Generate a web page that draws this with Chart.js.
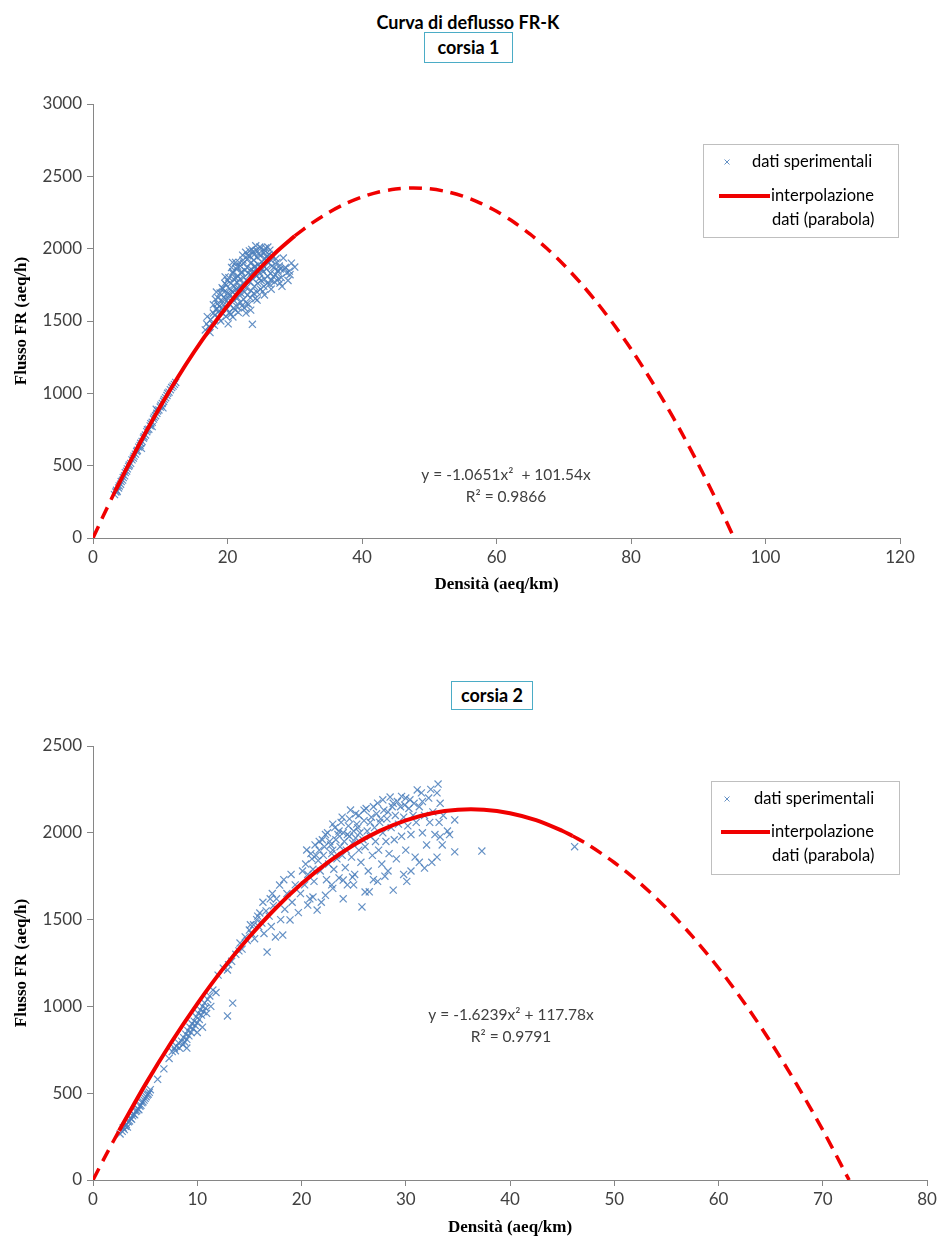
<!DOCTYPE html>
<html lang="it">
<head>
<meta charset="utf-8">
<title>Curva di deflusso FR-K</title>
<script src="https://cdn.jsdelivr.net/npm/chart.js@4.4.1/dist/chart.umd.min.js"></script>
<style>
    body { margin: 0; width: 941px; height: 1241px; position: relative; overflow: hidden; background: #fff; font-family: Lato, sans-serif; }
    .titolo { position: absolute; left: 0; top: 11px; width: 936px; text-align: center; font-weight: bold; font-size: 18px; line-height: 22px; color: #000; }
    .corsia { position: absolute; box-sizing: border-box; border: 1px solid #4bacc6; text-align: center; font-weight: bold; font-size: 18px; color: #000; }
    .grafico { position: absolute; left: 0; }
</style>
</head>
<body>
<div class="titolo">Curva di deflusso FR-K</div>
<div class="corsia" style="left:424px; top:32px; width:89px; height:31px; line-height:29px;">corsia 1</div>
<div class="corsia" style="left:451px; top:681px; width:82px; height:29px; line-height:27px;">corsia 2</div>
<canvas id="grafico1" class="grafico" style="top:0" width="941" height="620"></canvas>
<canvas id="grafico2" class="grafico" style="top:620px" width="941" height="621"></canvas>
<script>
// corsia 1: dati sperimentali (densità aeq/km, flusso aeq/h)
const densita1 = [
    3.2, 3.4, 3.5, 3.6, 3.8, 3.9, 4.1, 4.2, 4.4, 4.5,
    4.7, 4.8, 5.0, 5.1, 5.3, 5.4, 5.6, 5.8, 6.0, 6.1,
    6.3, 6.5, 6.6, 6.8, 7.0, 7.1, 7.3, 7.5, 7.6, 7.8,
    8.0, 8.1, 8.3, 8.5, 8.6, 8.8, 9.0, 9.1, 9.3, 9.5,
    9.6, 9.8, 10.0, 10.1, 10.3, 10.5, 10.6, 10.8, 11.0, 11.1,
    11.3, 11.5, 11.7, 11.9, 12.1, 12.3, 7.2, 8.8, 9.4, 10.4,
    16.7, 17.2, 17.5, 17.8, 18.9, 18.5, 19.2, 20.0, 20.8, 21.5,
    22.3, 23.0, 23.8, 24.8, 26.0, 25.5, 19.0, 20.1, 20.8, 21.6,
    22.5, 23.7, 24.4, 25.5, 26.5, 27.8, 28.3, 28.8, 30.0, 29.0,
    27.5, 28.0, 29.5, 18.1, 18.3, 17.9, 18.2, 18.7, 18.6, 18.8,
    18.6, 19.3, 19.4, 19.2, 19.5, 19.3, 19.8, 19.9, 19.7, 20.0,
    19.8, 20.3, 20.2, 20.4, 20.3, 20.5, 20.2, 20.9, 21.0, 20.8,
    21.0, 20.9, 20.8, 21.4, 21.5, 21.3, 21.4, 21.6, 21.3, 21.9,
    22.0, 21.8, 21.9, 22.1, 21.9, 22.4, 22.5, 22.3, 22.4, 22.6,
    22.4, 22.9, 23.0, 22.8, 22.9, 23.1, 22.9, 23.0, 23.4, 23.5,
    23.3, 23.4, 23.5, 23.4, 23.3, 23.9, 24.0, 23.8, 23.9, 24.1,
    23.9, 24.0, 24.4, 24.5, 24.3, 24.4, 24.6, 24.4, 24.3, 24.9,
    25.0, 24.8, 24.9, 25.1, 24.9, 25.4, 25.5, 25.3, 25.4, 25.6,
    25.4, 25.9, 26.0, 25.8, 26.1, 25.9, 26.5, 26.4, 26.6, 26.5,
    27.0, 27.1, 26.9, 27.6, 27.5, 27.7, 26.2, 24.2, 23.6, 22.7,
    21.2, 20.6, 19.6, 17.0, 16.9, 25.0, 26.3, 27.2, 28.5, 29.3,
    17.4, 17.9, 18.35, 18.05, 19.15, 19.65, 20.15, 20.65, 20.45, 21.15,
    21.75, 21.25, 22.15, 22.75, 22.25, 23.15, 23.65, 23.25, 24.15, 24.65,
    24.75, 25.25, 25.75, 25.15, 26.25, 26.75, 26.85, 27.35, 27.85, 28.6,
    29.2, 28.1, 23.45, 22.05, 20.75, 24.05, 25.65, 19.45, 18.45, 21.65
];
const flusso1 = [
    300, 318, 330, 322, 346, 360, 372, 390, 400, 418,
    430, 452, 462, 478, 495, 505, 516, 540, 552, 566,
    580, 598, 606, 628, 640, 655, 668, 690, 700, 712,
    735, 748, 752, 775, 790, 800, 822, 835, 845, 862,
    878, 885, 905, 918, 930, 945, 958, 970, 985, 1000,
    1008, 1025, 1040, 1050, 1062, 1075, 620, 770, 890, 900,
    1438, 1460, 1510, 1480, 1693, 1620, 1730, 1780, 1840, 1880,
    1921, 1950, 1980, 2011, 2011, 1990, 1500, 1480, 1528, 1560,
    1590, 1477, 1645, 1680, 1720, 1762, 1935, 1831, 1873, 1780,
    1850, 1800, 1900, 1540, 1582, 1612, 1650, 1520, 1561, 1602,
    1660, 1550, 1612, 1640, 1700, 1722, 1530, 1583, 1650, 1690,
    1750, 1560, 1620, 1680, 1722, 1760, 1800, 1590, 1640, 1700,
    1740, 1790, 1830, 1600, 1660, 1720, 1770, 1810, 1860, 1630,
    1690, 1740, 1790, 1840, 1880, 1650, 1700, 1760, 1800, 1850,
    1900, 1620, 1680, 1730, 1780, 1830, 1870, 1930, 1660, 1710,
    1770, 1820, 1860, 1900, 1950, 1690, 1740, 1790, 1840, 1880,
    1920, 1960, 1700, 1760, 1810, 1850, 1890, 1940, 1990, 1720,
    1780, 1830, 1870, 1910, 1950, 1740, 1790, 1840, 1880, 1930,
    1970, 1760, 1810, 1860, 1900, 1950, 1780, 1830, 1880, 1920,
    1770, 1820, 1870, 1790, 1840, 1880, 1960, 2020, 1995, 1975,
    1905, 1870, 1760, 1530, 1480, 2005, 1990, 1930, 1860, 1820,
    1420, 1555, 1700, 1470, 1585, 1805, 1655, 1705, 1545, 1575,
    1905, 1795, 1605, 1555, 1955, 1615, 1835, 1985, 1655, 1965,
    1795, 1705, 1945, 1855, 1755, 1945, 1805, 1905, 1860, 1870,
    1845, 1740, 1575, 1835, 1905, 1875, 2005, 1665, 1585, 1725
];

// corsia 1: parabola di interpolazione (tratto pieno + prolungamenti tratteggiati)
const parabola1X = [3.3, 5, 7.5, 10, 12.5, 15, 17.5, 20, 22.5, 25, 27.5, 30];
const parabola1Y = [324, 481, 702, 909, 1103, 1284, 1451, 1605, 1746, 1873, 1987, 2088];
const prolung1SxX = [0, 1.5, 3.3];
const prolung1SxY = [0, 150, 324];
const prolung1DxX = [30, 32.5, 35, 37.5, 40, 42.5, 45, 47.5, 50, 52.5, 55, 57.5, 60, 62.5, 65, 67.5, 70, 72.5, 75, 77.5, 80, 82.5, 85, 87.5, 90, 92.5, 95.33];
const prolung1DxY = [2088, 2175, 2249, 2310, 2357, 2392, 2412, 2420, 2414, 2395, 2363, 2317, 2258, 2186, 2100, 2001, 1889, 1763, 1624, 1472, 1307, 1127, 936, 730, 511, 279, 0];

const tickX1 = [0, 20, 40, 60, 80, 100, 120];
const tickY1 = [0, 500, 1000, 1500, 2000, 2500, 3000];

// corsia 2
const densita2 = [
    2.6, 2.8, 2.9, 3.0, 3.1, 3.2, 3.3, 3.4, 3.5, 3.6,
    3.7, 3.8, 3.9, 4.0, 4.1, 4.2, 4.3, 4.4, 4.5, 4.6,
    4.7, 4.8, 4.9, 5.0, 5.1, 5.2, 5.3, 5.4, 5.5, 6.2,
    6.8, 7.3, 7.6, 7.8, 7.9, 8.0, 8.2, 8.3, 8.5, 8.6,
    8.7, 8.8, 8.9, 9.0, 9.1, 9.2, 9.3, 9.4, 9.5, 9.6,
    9.7, 9.8, 9.9, 10.0, 10.1, 10.2, 10.3, 10.4, 10.5, 10.6,
    10.7, 10.8, 11.0, 11.2, 11.5, 9.0, 10.0, 10.5, 12.9, 13.4,
    12.0, 12.5, 12.9, 13.3, 13.7, 14.1, 14.3, 14.6, 14.8, 15.0,
    15.2, 15.4, 15.5, 15.7, 15.9, 16.0, 16.2, 16.4, 16.6, 16.7,
    16.9, 17.1, 17.3, 17.5, 17.6, 17.9, 18.0, 18.2, 18.4, 18.6,
    18.9, 19.1, 19.4, 19.7, 19.9, 20.5, 21.0, 21.3, 22.0, 22.5,
    23.2, 23.8, 24.7, 25.5, 26.2, 27.3, 28.5, 29.2, 30.0, 31.1,
    31.5, 32.2, 33.1, 33.0, 33.3, 34.7, 34.7, 33.3, 34.0, 33.6,
    34.2, 20.3, 20.8, 21.5, 22.3, 23.0, 24.0, 25.0, 25.8, 26.5,
    27.3, 28.0, 28.8, 29.8, 30.5, 31.8, 32.5, 33.0, 20.1, 20.4,
    20.6, 20.9, 21.1, 21.2, 21.6, 21.7, 21.8, 22.1, 22.2, 22.4,
    22.6, 22.7, 22.9, 23.0, 23.1, 23.3, 23.4, 23.5, 23.6, 23.7,
    23.9, 24.0, 24.1, 24.2, 24.3, 24.5, 24.6, 24.8, 24.9, 25.0,
    25.1, 25.2, 25.3, 25.5, 25.6, 25.7, 25.9, 26.0, 26.1, 26.3,
    26.4, 26.6, 26.7, 26.8, 27.0, 27.1, 27.2, 27.4, 27.5, 27.7,
    27.8, 27.9, 28.1, 28.2, 28.4, 28.6, 28.7, 28.9, 29.0, 29.1,
    29.3, 29.5, 29.6, 29.8, 30.0, 30.2, 30.3, 30.5, 30.7, 30.9,
    31.0, 31.3, 31.6, 31.8, 32.0, 32.3, 32.6, 32.8, 33.2, 33.5,
    37.3, 46.2, 26.1, 24.9, 24.0, 20.6, 21.1, 16.3, 17.2, 15.8,
    21.4, 22.8, 23.6, 24.4, 25.4, 26.6, 27.6, 28.3, 29.9, 30.8,
    21.7, 22.3, 23.0, 23.9, 24.6, 25.2, 26.0, 26.9, 27.8, 28.8,
    29.6, 30.4, 31.6, 32.4, 22.9, 24.4, 26.9, 28.3, 30.1, 31.3,
    21.9, 19.0, 18.3, 17.0, 15.1, 14.0, 13.0, 11.8, 11.3, 10.9
];
const flusso2 = [
    265, 280, 300, 290, 310, 320, 305, 335, 340, 355,
    350, 370, 380, 375, 395, 400, 410, 405, 425, 430,
    445, 450, 460, 470, 480, 490, 495, 505, 520, 580,
    640, 700, 740, 760, 745, 770, 790, 760, 800, 780,
    820, 795, 840, 810, 860, 830, 880, 850, 900, 870,
    915, 890, 940, 905, 960, 925, 980, 950, 1000, 970,
    1020, 990, 1040, 1060, 1094, 760, 850, 880, 945, 1019,
    1180, 1220, 1210, 1260, 1300, 1365, 1330, 1400, 1380, 1440,
    1420, 1470, 1390, 1500, 1460, 1538, 1480, 1420, 1550, 1313,
    1520, 1460, 1580, 1400, 1620, 1699, 1500, 1411, 1560, 1650,
    1498, 1600, 1700, 1540, 1650, 1901, 1850, 1930, 1960, 2000,
    2030, 2060, 2131, 2100, 2140, 2171, 2206, 2180, 2200, 2247,
    2230, 2200, 2281, 2230, 2170, 2074, 1890, 1976, 2010, 2100,
    1990, 1700, 1620, 1555, 1640, 1680, 1620, 1700, 1573, 1660,
    1720, 1750, 1670, 1760, 1780, 1797, 1830, 1860, 1780, 1820,
    1760, 1880, 1790, 1720, 1840, 1900, 1780, 1870, 1920, 1730,
    1820, 1950, 1880, 1900, 1790, 1960, 1850, 1990, 1740, 1920,
    1870, 2000, 1950, 1800, 1900, 2040, 1980, 1860, 1940, 2010,
    1760, 1970, 2050, 1900, 2000, 1830, 1960, 2070, 1920, 2010,
    1780, 1980, 2090, 1870, 2030, 1950, 2110, 1900, 2060, 1820,
    2000, 2130, 1950, 2080, 1880, 2030, 2150, 1960, 2100, 1850,
    2050, 2150, 1980, 2090, 1900, 2040, 2140, 1990, 2100, 1860,
    2060, 2150, 2000, 2100, 1930, 2060, 2120, 1990, 2060, 1930,
    1895, 1920, 1659, 1745, 1728, 1584, 1630, 1600, 1650, 1520,
    1870, 1930, 2010, 1990, 2030, 2060, 2080, 2120, 2160, 2170,
    1950, 1990, 2050, 2090, 2080, 2110, 2130, 2150, 2190, 2170,
    2210, 2190, 2180, 2250, 1700, 1700, 1730, 1780, 1720, 1830,
    1600, 1760, 1730, 1620, 1470, 1320, 1240, 1080, 1000, 960
];

const parabola2X = [2.5, 5, 7.5, 10, 12.5, 15, 17.5, 20, 22.5, 25, 27.5, 30, 32.5, 35, 37.5, 40, 42.5, 45, 46];
const parabola2Y = [284, 548, 792, 1015, 1219, 1401, 1564, 1706, 1828, 1930, 2011, 2072, 2113, 2133, 2133, 2113, 2073, 2012, 1982];
const prolung2SxX = [0, 1.25, 2.5];
const prolung2SxY = [0, 145, 284];
const prolung2DxX = [46, 47.5, 50, 52.5, 55, 57.5, 60, 62.5, 65, 67.5, 70, 72.53];
const prolung2DxY = [1982, 1931, 1829, 1708, 1566, 1403, 1221, 1018, 795, 551, 288, 0];

const tickX2 = [0, 10, 20, 30, 40, 50, 60, 70, 80];
const tickY2 = [0, 500, 1000, 1500, 2000, 2500];

const BLU = 'rgba(74, 126, 187, 0.85)';
const ROSSO = '#f00000';
const GRIGIO_ASSI = '#868686';

Chart.defaults.font.family = 'Lato, sans-serif';

function puntiXY(xs, ys) {
    return xs.map((x, i) => ({ x: x, y: ys[i] }));
}

function serieCurva(xs, ys, tratteggiata) {
    return {
        data: puntiXY(xs, ys),
        showLine: true,
        borderColor: ROSSO,
        borderWidth: tratteggiata ? 3.5 : 4,
        borderDash: tratteggiata ? [13, 8] : [],
        tension: 0.3,
        pointRadius: 0,
        fill: false
    };
}

// legenda e equazione disegnate sopra il grafico
function pluginAnnotazioni(opz) {
    return {
        id: 'annotazioni',
        afterDraw(chart) {
            const ctx = chart.ctx;
            const L = opz.legenda;
            ctx.save();
            ctx.strokeStyle = '#bfbfbf';
            ctx.lineWidth = 1;
            ctx.strokeRect(L.x + 0.5, L.y + 0.5, L.w, L.h);

            ctx.strokeStyle = BLU;
            ctx.beginPath();
            ctx.moveTo(L.markerX - 2.5, L.markerY - 2.5);
            ctx.lineTo(L.markerX + 2.5, L.markerY + 2.5);
            ctx.moveTo(L.markerX + 2.5, L.markerY - 2.5);
            ctx.lineTo(L.markerX - 2.5, L.markerY + 2.5);
            ctx.stroke();

            ctx.strokeStyle = ROSSO;
            ctx.lineWidth = 4;
            ctx.beginPath();
            ctx.moveTo(L.lineaX1, L.lineaY);
            ctx.lineTo(L.lineaX2, L.lineaY);
            ctx.stroke();

            ctx.fillStyle = '#000';
            ctx.font = '16.5px Lato, sans-serif';
            ctx.textBaseline = 'middle';
            ctx.textAlign = 'left';
            ctx.fillText('dati sperimentali', L.testoMarkerX, L.markerY);
            ctx.fillText('interpolazione', L.testoX, L.lineaY);
            ctx.fillText('dati (parabola)', L.testoX + 1, L.lineaY + 24);

            const E = opz.equazione;
            ctx.fillStyle = '#404040';
            ctx.font = '15.5px Lato, sans-serif';
            ctx.textAlign = 'center';
            ctx.fillText(E.riga1, E.x, E.y);
            ctx.fillText(E.riga2, E.x, E.y + 22);
            ctx.restore();
        }
    };
}

function opzioniScale(xMax, yMax, tickX, tickY, altezzaX, paddingTitoloX) {
    const fontTitolo = { family: 'Liberation Serif, serif', size: 17, weight: 'bold' };
    return {
        x: {
            type: 'linear',
            min: 0,
            max: xMax,
            afterBuildTicks: (scala) => { scala.ticks = tickX.map((v) => ({ value: v })); },
            afterFit: (scala) => { scala.height = altezzaX; },
            grid: { drawOnChartArea: false, drawTicks: true, tickLength: 6, color: GRIGIO_ASSI },
            border: { color: GRIGIO_ASSI, width: 1 },
            ticks: { color: '#404040', font: { size: 17 }, padding: 3, autoSkip: false, maxRotation: 0, callback: (v) => String(v) },
            title: { display: true, text: 'Densità (aeq/km)', color: '#000', font: fontTitolo, padding: { top: 0, bottom: paddingTitoloX } }
        },
        y: {
            type: 'linear',
            min: 0,
            max: yMax,
            afterBuildTicks: (scala) => { scala.ticks = tickY.map((v) => ({ value: v })); },
            afterFit: (scala) => { scala.width = 93; },
            grid: { drawOnChartArea: false, drawTicks: true, tickLength: 6, color: GRIGIO_ASSI },
            border: { color: GRIGIO_ASSI, width: 1 },
            ticks: { color: '#404040', font: { size: 17 }, padding: 5, autoSkip: false, callback: (v) => String(v) },
            title: { display: true, text: 'Flusso FR (aeq/h)', color: '#000', font: fontTitolo, padding: { top: 11, bottom: 0 } }
        }
    };
}

function creaGrafico(idCanvas, cfg) {
    const ctx = document.getElementById(idCanvas).getContext('2d');
    return new Chart(ctx, {
        type: 'scatter',
        data: {
            datasets: [
                serieCurva(cfg.parabolaX, cfg.parabolaY, false),
                serieCurva(cfg.sxX, cfg.sxY, true),
                serieCurva(cfg.dxX, cfg.dxY, true),
                {
                    data: puntiXY(cfg.densita, cfg.flusso),
                    pointStyle: 'crossRot',
                    pointRadius: 5,
                    borderColor: BLU,
                    borderWidth: 1.2,
                    backgroundColor: BLU
                }
            ]
        },
        options: {
            responsive: false,
            animation: false,
            layout: { padding: cfg.padding },
            plugins: { legend: { display: false }, tooltip: { enabled: false } },
            scales: opzioniScale(cfg.xMax, cfg.yMax, cfg.tickX, cfg.tickY, cfg.altezzaX, cfg.paddingTitoloX)
        },
        plugins: [pluginAnnotazioni(cfg.annotazioni)]
    });
}

creaGrafico('grafico1', {
    densita: densita1, flusso: flusso1,
    parabolaX: parabola1X, parabolaY: parabola1Y,
    sxX: prolung1SxX, sxY: prolung1SxY,
    dxX: prolung1DxX, dxY: prolung1DxY,
    xMax: 120, yMax: 3000, tickX: tickX1, tickY: tickY1,
    altezzaX: 62, paddingTitoloX: 5,
    padding: { left: 0, right: 41, top: 104, bottom: 20 },
    annotazioni: {
        legenda: { x: 703, y: 144, w: 195, h: 93, markerX: 727, markerY: 162, testoMarkerX: 752, lineaX1: 719, lineaX2: 770, lineaY: 196, testoX: 771 },
        equazione: { x: 506, y: 475, riga1: 'y = -1.0651x²  + 101.54x', riga2: 'R² = 0.9866' }
    }
});

creaGrafico('grafico2', {
    densita: densita2, flusso: flusso2,
    parabolaX: parabola2X, parabolaY: parabola2Y,
    sxX: prolung2SxX, sxY: prolung2SxY,
    dxX: prolung2DxX, dxY: prolung2DxY,
    xMax: 80, yMax: 2500, tickX: tickX2, tickY: tickY2,
    altezzaX: 61, paddingTitoloX: 3,
    padding: { left: 0, right: 14, top: 126, bottom: 0 },
    annotazioni: {
        legenda: { x: 711, y: 161, w: 188, h: 93, markerX: 727, markerY: 179, testoMarkerX: 754, lineaX1: 721, lineaX2: 770, lineaY: 212, testoX: 771 },
        equazione: { x: 511, y: 395, riga1: 'y = -1.6239x² + 117.78x', riga2: 'R² = 0.9791' }
    }
});
</script>
</body>
</html>
